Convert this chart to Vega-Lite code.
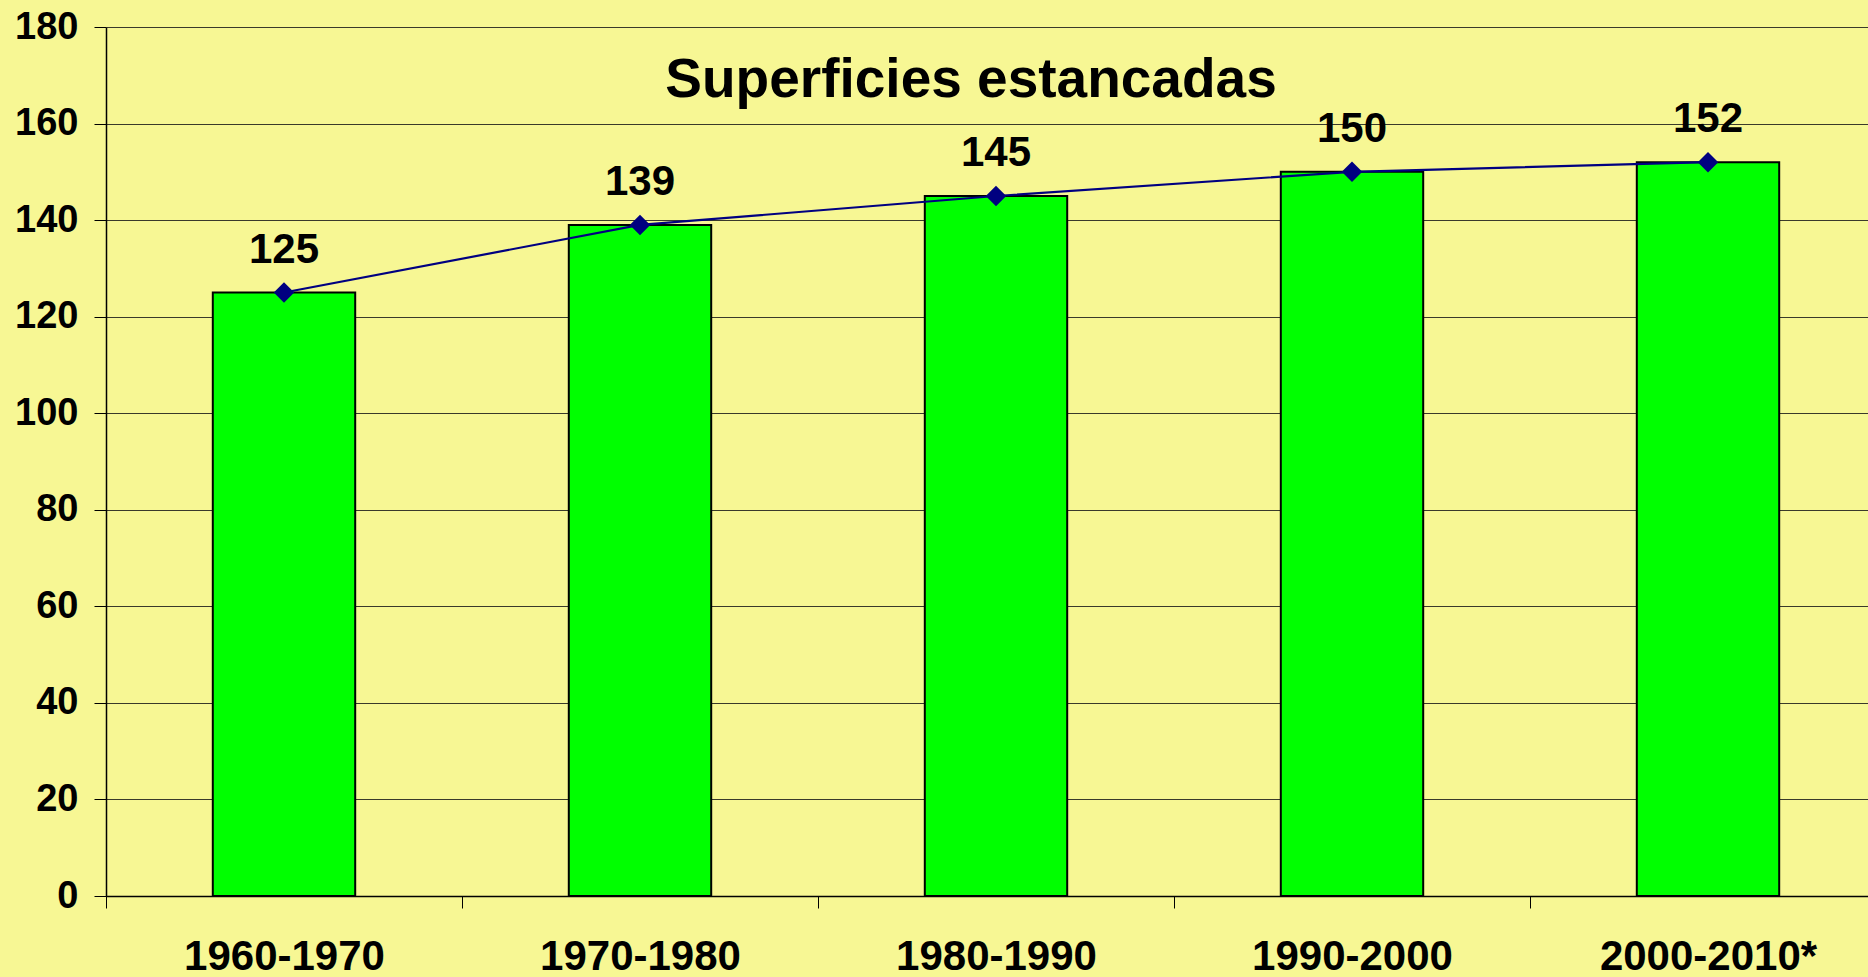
{
  "$schema": "https://vega.github.io/schema/vega-lite/v6.json",
  "autosize": {"type": "none"},
  "width": 1762,
  "height": 869,
  "padding": {"left": 106, "top": 27, "right": 0, "bottom": 81},
  "background": "#F7F794",
  "config": {
    "view": {"stroke": null, "fill": "#F7F794"},
    "font": "Liberation Sans"
  },
  "title": {
    "text": "Superficies estancadas",
    "font": "Liberation Sans",
    "fontSize": 55,
    "fontWeight": "bold",
    "color": "#000000",
    "anchor": "middle",
    "frame": "group",
    "offset": 0,
    "baseline": "alphabetic",
    "dx": -16,
    "dy": 144
  },
  "data": {
    "values": [
      {"periodo": "1960-1970", "valor": 125},
      {"periodo": "1970-1980", "valor": 139},
      {"periodo": "1980-1990", "valor": 145},
      {"periodo": "1990-2000", "valor": 150},
      {"periodo": "2000-2010*", "valor": 152}
    ]
  },
  "encoding": {
    "x": {
      "field": "periodo",
      "type": "nominal",
      "sort": null,
      "scale": {"paddingInner": 0, "paddingOuter": 0, "range": [0, 1780]},
      "axis": {
        "title": null,
        "labelAngle": 0,
        "labelLimit": 0,
        "labelFont": "Liberation Sans",
        "labelFontSize": 42,
        "labelFontWeight": "bold",
        "labelColor": "#000000",
        "labelPadding": 28,
        "tickBand": "extent",
        "tickSize": 12,
        "tickColor": "#000000",
        "tickWidth": 1,
        "domainColor": "#000000",
        "domainWidth": 1.5,
        "grid": false
      }
    },
    "y": {
      "field": "valor",
      "type": "quantitative",
      "scale": {"domain": [0, 180], "nice": false},
      "axis": {
        "title": null,
        "values": [0, 20, 40, 60, 80, 100, 120, 140, 160, 180],
        "labelFont": "Liberation Sans",
        "labelFontSize": 38,
        "labelFontWeight": "bold",
        "labelColor": "#000000",
        "labelPadding": 16,
        "tickSize": 12,
        "tickColor": "#000000",
        "tickWidth": 1,
        "domainColor": "#000000",
        "domainWidth": 1.5,
        "grid": true,
        "gridColor": "#3a3a2a",
        "gridWidth": 1.2
      }
    }
  },
  "layer": [
    {
      "mark": {"type": "bar", "width": {"band": 0.4}, "fill": "#00FF00", "stroke": "#000000", "strokeWidth": 2}
    },
    {
      "mark": {"type": "line", "color": "#000080", "strokeWidth": 2.2, "point": {"shape": "diamond", "size": 420, "filled": true, "color": "#000080"}}
    },
    {
      "mark": {"type": "text", "font": "Liberation Sans", "fontSize": 42, "fontWeight": "bold", "color": "#000000", "baseline": "middle", "dy": -43},
      "encoding": {"text": {"field": "valor", "type": "quantitative"}}
    }
  ]
}
